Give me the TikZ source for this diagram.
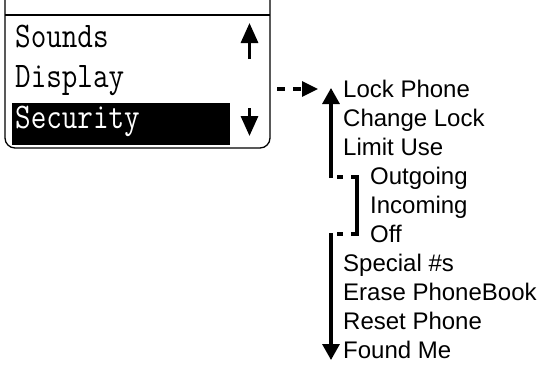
\documentclass[tikz,border=0pt]{standalone}
\usepackage{fontspec}
\setmainfont{Liberation Sans}
\usetikzlibrary{arrows.meta}
\newcommand{\lcdtext}[1]{\scalebox{0.84}[1]{#1}}
\begin{document}
\begin{tikzpicture}[x=1pt,y=-1pt,
  lcd/.style={anchor=base west, inner sep=0pt, font=\ttfamily\fontsize{36}{36}\selectfont},
  item/.style={anchor=base west, inner sep=0pt, font=\fontsize{24}{24}\selectfont},
  frame/.style={line width=1.3pt},
  shaft/.style={line width=3.2pt},
  bigtip/.style={-{Triangle[length=16pt,width=17pt]}},
  scrolltip/.style={-{Triangle[length=20pt,width=17pt]}},
]
\useasboundingbox (0,0) rectangle (541,372);
% screen
\draw[frame, rounded corners=10pt] (5,0) -- (5,148) -- (270,148) -- (270,0);
\draw[frame] (5,15) -- (270,15);
\fill (12,103) rectangle (230,145);
\node[lcd] (sounds) at (15,47) {\lcdtext{Sounds}};
\node[lcd] (display) at (15,87) {\lcdtext{Display}};
\node[lcd, text=white] (security) at (15,128) {\lcdtext{Security}};
\coordinate (upA) at (249.5,59);
\coordinate (upB) at (249.5,23);
\coordinate (dnA) at (249.5,108);
\coordinate (dnB) at (249.5,136);
\draw[shaft, scrolltip] (upA) -- (upB);
\draw[shaft, scrolltip] (dnA) -- (dnB);
% menu items
\node[item] (lock) at (343,97) {Lock Phone};
\node[item] (change) at (343,126) {Change Lock};
\node[item] (limit) at (343,155) {Limit Use};
\node[item] (out) at (370,184) {Outgoing};
\node[item] (inc) at (370,213) {Incoming};
\node[item] (off) at (370,242) {Off};
\node[item] (special) at (343,271) {Special \#s};
\node[item] (erase) at (343,300) {Erase PhoneBook};
\node[item] (reset) at (343,329) {Reset Phone};
\node[item] (found) at (343,358) {Found Me};
% connectors
\coordinate (dashA) at (277,89);
\coordinate (dashB) at (318,89);
\draw[shaft, dash pattern=on 8pt off 8pt, -{Triangle[length=16pt,width=15pt]}] (dashA) -- (dashB);
\coordinate (vtopA) at (331,178);
\coordinate (vtopB) at (331,88);
\draw[shaft, bigtip] (vtopA) -- (vtopB);
\coordinate (d1a) at (337,177);
\coordinate (d1b) at (343,177);
\draw[shaft] (d1a) -- (d1b);
\coordinate (brA) at (351,177);
\coordinate (brB) at (357,177);
\coordinate (brC) at (357,234);
\coordinate (brD) at (351,234);
\draw[shaft] (brA) -- (brB) -- (brC) -- (brD);
\coordinate (d2a) at (337,234);
\coordinate (d2b) at (343,234);
\draw[shaft] (d2a) -- (d2b);
\coordinate (vbotA) at (331,233);
\coordinate (vbotB) at (331,360);
\draw[shaft, bigtip] (vbotA) -- (vbotB);
\end{tikzpicture}
\end{document}
